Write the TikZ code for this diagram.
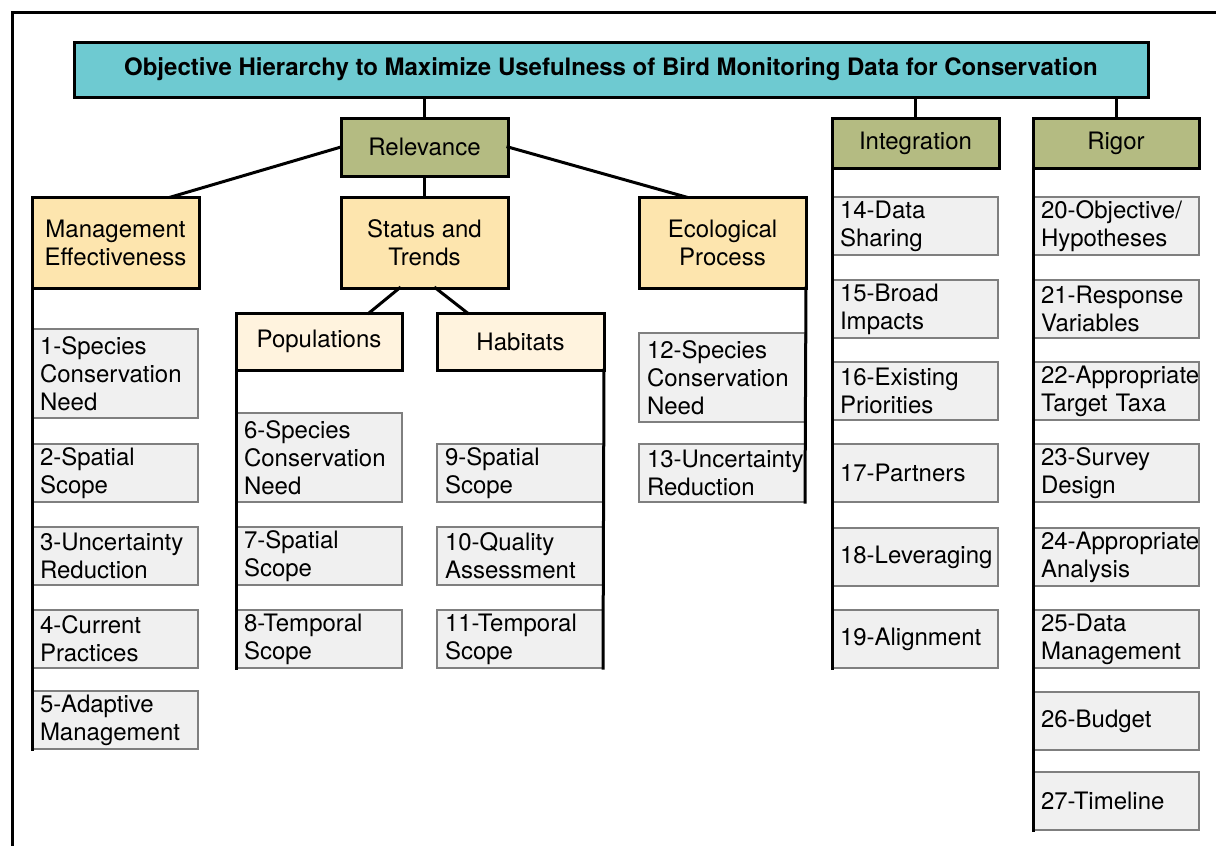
\documentclass[tikz,border=0pt]{standalone}
\usepackage{fontspec}
\setmainfont{TeX Gyre Heros}
\hyphenpenalty=10000
\exhyphenpenalty=10000

\definecolor{titleteal}{HTML}{6ECAD1}
\definecolor{goalolive}{HTML}{B4BB82}
\definecolor{suborange}{HTML}{FDE5AE}
\definecolor{subcream}{HTML}{FFF3DE}
\definecolor{leafgray}{HTML}{F0F0F0}
\definecolor{leafedge}{HTML}{7F7F7F}

\begin{document}
\begin{tikzpicture}[x=1pt, y=-1pt,
  every node/.style={font=\fontsize{24}{28}\selectfont, inner sep=0pt, outer sep=0pt, anchor=north west},
  titlebox/.style={draw, line width=3pt, fill=titleteal, minimum width=1074pt, minimum height=55pt, font=\fontsize{24}{28}\selectfont\bfseries},
  goal/.style={draw, line width=3pt, fill=goalolive, minimum width=167pt, align=center},
  sub/.style={draw, line width=3pt, fill=suborange, minimum width=167pt, minimum height=91pt, align=center},
  subsub/.style={draw, line width=3pt, fill=subcream, minimum width=167pt, minimum height=57pt, align=center},
  leaf/.style={draw=leafedge, line width=2.5pt, fill=leafgray, text width=150pt, inner xsep=8pt, align=left, minimum height=58pt},
  tall/.style={minimum height=89pt},
  link/.style={line width=3pt, line cap=rect}
]
  \useasboundingbox (0,0) rectangle (1216,846);

  % Draw the outer frame
  \draw[line width=3pt] (1230,12) -- (12,12) -- (12,860);

  % Top of the hierarchy
  \node[titlebox] (title) at (74,42) {Objective Hierarchy to Maximize Usefulness of Bird Monitoring Data for Conservation};

  \node[goal, minimum height=58pt] (rel) at (341,118) {Relevance};
  \node[goal, minimum height=50pt] (integ) at (832,118) {Integration};
  \node[goal, minimum height=50pt, minimum width=166pt] (rigor) at (1033,118) {Rigor};

  \node[sub] (man) at (32,197) {Management\\Effectiveness};
  \node[sub] (st) at (341,197) {Status and\\Trends};
  \node[sub] (eco) at (639,197) {Ecological\\Process};

  \node[subsub, minimum width=166pt] (pop) at (236,313) {Populations};
  \node[subsub] (hab) at (437,313) {Habitats};

  % Management column
  \node[leaf, tall] (l1) at (32,329) {1-Species\\Conservation\\Need};
  \node[leaf] (l2) at (32,444) {2-Spatial\\Scope};
  \node[leaf] (l3) at (32,527) {3-Uncertainty\\Reduction};
  \node[leaf] (l4) at (32,610) {4-Current\\Practices};
  \node[leaf] (l5) at (32,691) {5-Adaptive\\Management};

  % Populations and habitats columns
  \node[leaf, tall] (l6) at (236,413) {6-Species\\Conservation\\Need};
  \node[leaf] (l7) at (236,527) {7-Spatial\\Scope};
  \node[leaf] (l8) at (236,610) {8-Temporal\\Scope};
  \node[leaf] (l9) at (437,444) {9-Spatial\\Scope};
  \node[leaf] (l10) at (437,527) {10-Quality\\Assessment};
  \node[leaf] (l11) at (437,610) {11-Temporal\\Scope};

  % Ecological column
  \node[leaf, tall] (l12) at (639,333) {12-Species\\Conservation\\Need};
  \node[leaf] (l13) at (639,444) {13-Uncertainty\\Reduction};

  % Integration column
  \node[leaf] (l14) at (832,197) {14-Data\\Sharing};
  \node[leaf] (l15) at (832,280) {15-Broad\\Impacts};
  \node[leaf] (l16) at (832,362) {16-Existing\\Priorities};
  \node[leaf] (l17) at (832,444) {17-Partners};
  \node[leaf] (l18) at (832,528) {18-Leveraging};
  \node[leaf] (l19) at (832,610) {19-Alignment};

  % Rigor column
  \node[leaf] (l20) at (1033,197) {20-Objective/\\Hypotheses};
  \node[leaf] (l21) at (1033,280) {21-Response\\Variables};
  \node[leaf] (l22) at (1033,362) {22-Appropriate\\Target Taxa};
  \node[leaf] (l23) at (1033,444) {23-Survey\\Design};
  \node[leaf] (l24) at (1033,528) {24-Appropriate\\Analysis};
  \node[leaf] (l25) at (1033,610) {25-Data\\Management};
  \node[leaf] (l26) at (1033,692) {26-Budget};
  \node[leaf] (l27) at (1033,772) {27-Timeline};

  % Draw the links
  \draw[link] (rel.north) -- (rel.north |- title.south);
  \draw[link] (integ.north) -- (integ.north |- title.south);
  \draw[link] (rigor.north) -- (rigor.north |- title.south);
  \draw[link] (rel.west) -- ([xshift=-28pt]man.north east);
  \draw[link] (rel.south) -- (st.north);
  \draw[link] (rel.east) -- ([xshift=47pt]eco.north west);
  \draw[link] ([xshift=-25pt]st.south) -- ([xshift=50pt]pop.north);
  \draw[link] ([xshift=11pt]st.south) -- ([xshift=-53pt]hab.north);

  % Draw the column bars
  \draw[link] (man.south west) -- (l5.south west);
  \draw[link] (pop.south west) -- (l8.south west);
  \draw[link] (hab.south east) -- (l11.south east);
  \draw[link] (eco.south east) -- (l13.south east);
  \draw[link] (integ.south west) -- (l19.south west);
  \draw[link] (rigor.south west) -- (l27.south west);

\end{tikzpicture}
\end{document}
